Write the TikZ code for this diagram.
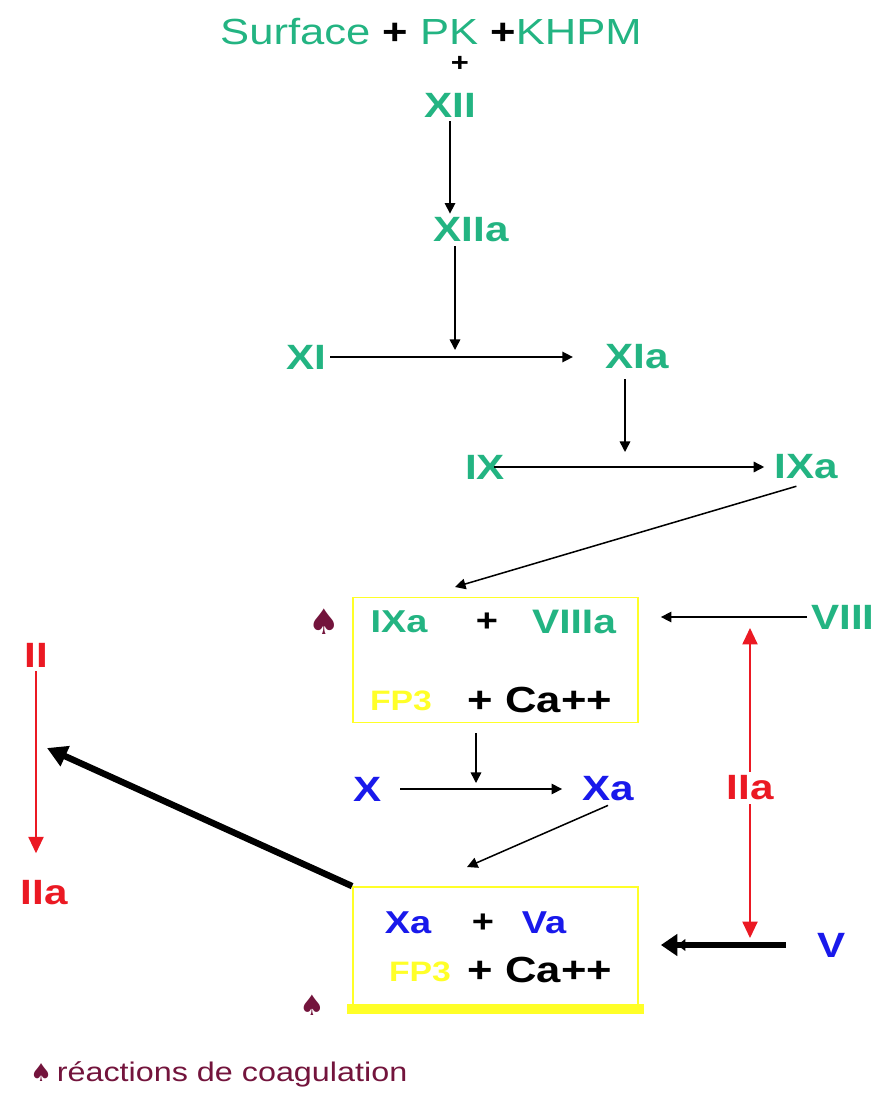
\documentclass[tikz,border=0pt]{standalone}
\usepackage{fontspec}
\setmainfont{Liberation Sans}[FakeStretch=1.2]
\newfontfamily\spadefont{DejaVu Sans}
\usetikzlibrary{arrows.meta}
\definecolor{facgreen}{RGB}{35,180,130}
\definecolor{facblue}{RGB}{25,25,235}
\definecolor{facred}{RGB}{235,25,35}
\definecolor{facyellow}{RGB}{255,255,40}
\definecolor{legmaroon}{RGB}{115,20,60}

\begin{document}
\begin{tikzpicture}[x=0.03cm, y=-0.03cm,
  lbl/.style={font=\fontsize{30}{36}\selectfont\bfseries, inner sep=0.3333em},
  inlbl/.style={font=\fontsize{27}{32}\selectfont\bfseries, inner sep=1pt},
  fp/.style={font=\fontsize{24}{28}\selectfont\bfseries, text=facyellow, inner sep=1pt},
  ca/.style={font=\fontsize{31}{36}\selectfont\bfseries, inner sep=1pt},
  spade/.style={font=\spadefont\fontsize{30}{34}\selectfont, text=legmaroon, inner sep=0pt},
  cplx/.style={draw=facyellow, line width=1.5pt, minimum width=8.55cm},
  arr/.style={-{Triangle[length=9pt,width=9pt]}, line width=1.3pt},
  redarr/.style={-{Triangle[length=14pt,width=13pt]}, draw=facred, fill=facred, line width=1.2pt},
  fatarr/.style={-{Triangle[length=17pt,width=18pt]}, line width=5.5pt}
]
\useasboundingbox (0,0) rectangle (879,1094);

% contact phase
\node[anchor=west, inner sep=0pt, text=facgreen, font=\fontsize{31}{36}\selectfont] (surf) at (220,32)
  {Surface \textcolor{black}{\textbf{+}} PK \textcolor{black}{\textbf{+}}KHPM};
\node[font=\fontsize{22}{26}\selectfont\bfseries, inner sep=0pt] (plus) at (460,64) {+};
\node[lbl, text=facgreen] (xii) at (450,105) {XII};
\node[lbl, text=facgreen] (xiia) at (471,230) {XIIa};
\node[lbl, text=facgreen] (xi) at (306,357) {XI};
\node[lbl, text=facgreen] (xia) at (637,357) {XIa};
\node[lbl, text=facgreen] (ix) at (485,467) {IX};
\node[lbl, text=facgreen] (ixa) at (806,467) {IXa};
\coordinate (j1) at (455,350);
\coordinate (j2) at (625,452);

% tenase
\node[cplx, minimum height=3.75cm] (cx1) at (495.5,660) {};
\node[inlbl, text=facgreen] (ixa1) at (399,622) {IXa};
\node[inlbl] (p1) at (487,622) {+};
\node[inlbl, text=facgreen, font=\fontsize{29}{34}\selectfont\bfseries] (viiia) at (574,622) {VIIIa};
\node[fp] (fp1) at (401,701) {FP3};
\node[ca] (ca1) at (540,700) {+ Ca++};
\node[spade] (sp1) at (324,622) {♠};
\node[lbl, text=facgreen] (viii) at (843,617) {VIII};
\node[lbl, text=facred] (iiar) at (750,788) {IIa};
\coordinate (j3) at (455,587);
\coordinate (t8) at (750,628);
\coordinate (t5) at (750,938);

% prothrombinase
\node[lbl, text=facblue] (x) at (368,789) {X};
\node[lbl, text=facblue] (xa) at (608,789) {Xa};
\node[cplx, minimum height=3.63cm] (cx2) at (495.5,947.5) {};
\node[inlbl, text=facblue] (xa2) at (408,923) {Xa};
\node[inlbl] (p2) at (483,923) {+};
\node[inlbl, text=facblue] (va) at (544,923) {Va};
\node[fp] (fp2) at (420,972) {FP3};
\node[ca] (ca2) at (540,970) {+ Ca++};
\node[spade, font=\spadefont\fontsize{24}{28}\selectfont] (sp2) at (312,1005) {♠};
\node[lbl, text=facblue] (v) at (832,945) {V};
\coordinate (j5) at (476,783);
\coordinate (j6) at (467,867);

% thrombin
\node[lbl, text=facred] (ii) at (36,655) {II};
\node[lbl, text=facred] (iial) at (44,893) {IIa};
\coordinate (j4) at (47,748);

\node[anchor=base west, inner sep=0pt, text=legmaroon, font=\fontsize{23}{28}\selectfont] (leg) at (30,1081)
  {{\spadefont\fontsize{21}{24}\selectfont ♠}\,réactions de coagulation};

\draw[arr] (xii.south) -- (xii.south |- xiia.north);
\draw[arr] (xiia.south -| j1) -- (j1);
\draw[arr, shorten >=0.85cm] (xi.east) -- (xia.west);
\draw[arr] (xia.south -| j2) ++(0,6) -- (j2);
\draw[arr, shorten <=-0.45cm, shorten >=0.18cm] (ix.east) -- (ixa.west);
\draw[arr, shorten <=0.3cm] (ixa.south) -- (j3);
\draw[arr, shorten >=0.66cm] (viii.west) -- (viii.west -| cx1.east);
\draw[redarr] (iiar.north) -- (t8);
\draw[redarr] (iiar.south) -- (t5);
\draw[arr, shorten <=0.3cm] (cx1.south -| j5) -- (j5);
\draw[arr, shorten <=0.42cm, shorten >=0.48cm] (x.east) -- (xa.west);
\draw[arr] (xa.south) -- (j6);
\draw[facyellow, line width=8.5pt] ([xshift=-0.15cm]cx2.south west) -- ([xshift=0.15cm]cx2.south east);
\draw[fatarr] (cx2.north west) -- (j4);
\draw[redarr, shorten >=0.7cm] (ii.south) -- (ii.south |- iial.north);
\draw[line width=5.5pt, -{Triangle[length=7pt,width=10pt] Triangle[length=14pt,width=18pt]}, shorten <=0.84cm, shorten >=0.66cm]
  (v.west) -- (v.west -| cx2.east);
\end{tikzpicture}
\end{document}
